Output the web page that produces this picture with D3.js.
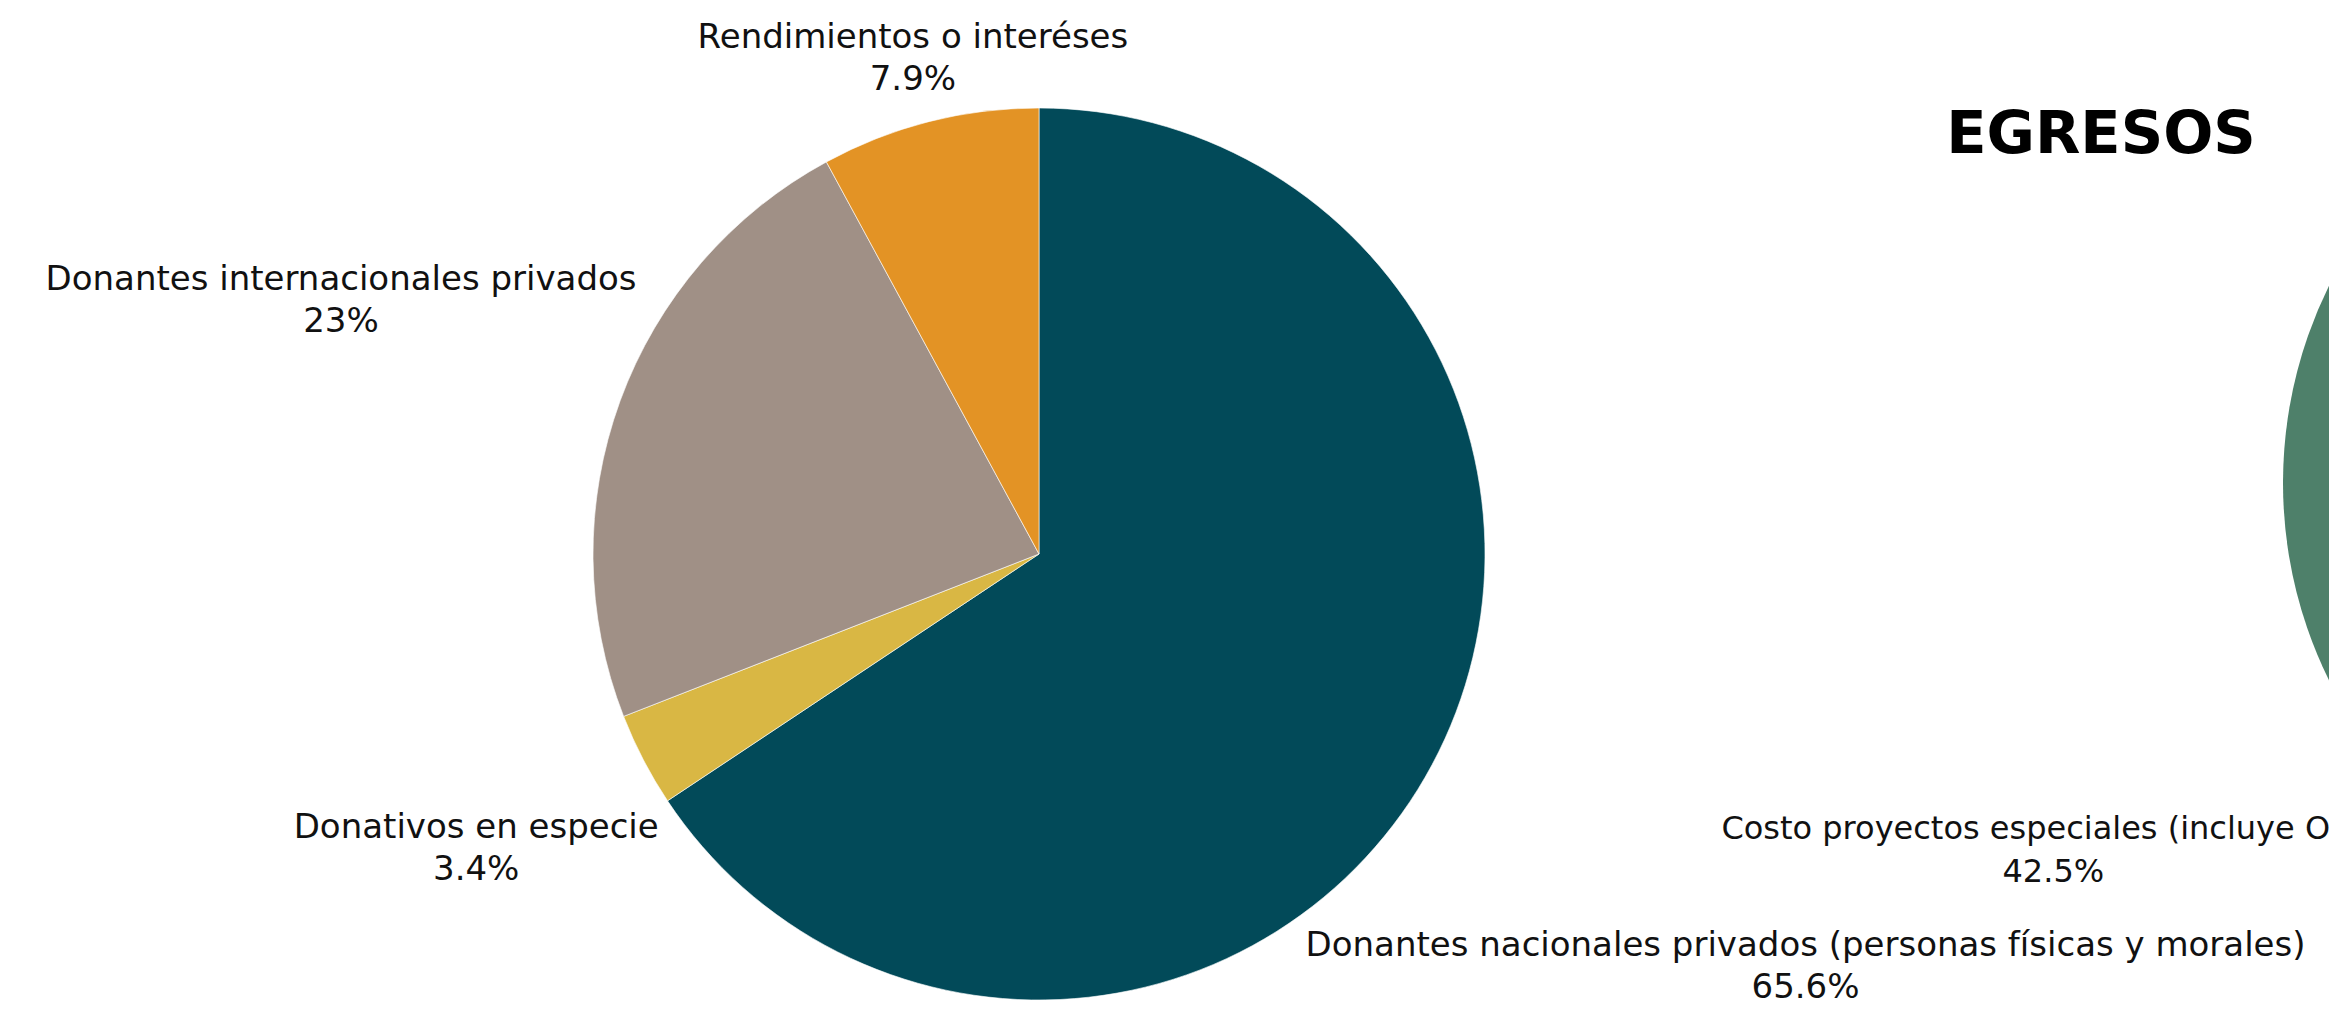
<!DOCTYPE html>
<html>
<head>
<meta charset="utf-8">
<script src="https://cdn.jsdelivr.net/npm/d3@7"></script>
<style>
  html, body { margin: 0; padding: 0; background: #ffffff; overflow: hidden; }
  svg { display: block; }
</style>
</head>
<body>
<svg id="chart" width="2329" height="1012"></svg>
<script>
// ---------------- DATA ----------------
const ingresosCategories = [
  "Donantes nacionales privados (personas físicas y morales)",
  "Donativos en especie",
  "Donantes internacionales privados",
  "Rendimientos o interéses"
];
const ingresosValues = [65.6, 3.4, 23, 7.9];
const ingresosLabels = ["65.6%", "3.4%", "23%", "7.9%"];
const ingresosColors = ["#024a59", "#d9b744", "#a09086", "#e39325"];

const egresosTitle = "EGRESOS";
const egresosCategories = [
  "Costo proyectos especiales (incluye OSC)",
  "Otros egresos"
];
const egresosValues = [42.5, 57.5];
const egresosLabels = ["42.5%", ""];
const egresosColors = ["#4e806a", "#c9c9c9"];

// ---------------- LAYOUT ----------------
const svg = d3.select("#chart");
const FONT = "'DejaVu Sans', 'Noto Sans', sans-serif";

function placeLabels(g, arcs, cats, labels, r, gap, fontSize, lineGap, onlyIdx) {
  arcs.forEach((a, i) => {
    if (onlyIdx && !onlyIdx.includes(i)) return;
    const mid = (a.startAngle + a.endAngle) / 2;
    const ux = Math.sin(mid), uy = -Math.cos(mid);
    const lg = g.append("g");
    lg.append("text").attr("text-anchor", "middle").attr("y", 0)
      .style("font-family", FONT).style("font-size", fontSize + "px").attr("fill", "#111")
      .text(cats[i]);
    lg.append("text").attr("text-anchor", "middle").attr("y", lineGap)
      .style("font-family", FONT).style("font-size", fontSize + "px").attr("fill", "#111")
      .text(labels[i]);
    const bb = lg.node().getBBox();
    const hw = bb.width / 2, hh = bb.height / 2;
    const ox = bb.x + hw, oy = bb.y + hh;
    const dist = d => {
      const x = ux * d, y = uy * d;
      const dx = Math.max(Math.abs(x) - hw, 0), dy = Math.max(Math.abs(y) - hh, 0);
      return Math.hypot(dx, dy);
    };
    let lo = 0, hi = 3000;
    for (let k = 0; k < 60; k++) {
      const m = (lo + hi) / 2;
      if (dist(m) < r + gap) lo = m; else hi = m;
    }
    const cx = ux * hi, cy = uy * hi;
    lg.attr("transform", `translate(${cx - ox},${cy - oy})`);
  });
}

// ---- Ingresos pie ----
const R1 = 446;
const g1 = svg.append("g").attr("transform", "translate(1039,554)");
const pie1 = d3.pie().sort(null).value(d => d)(ingresosValues);
const arc1 = d3.arc().innerRadius(0).outerRadius(R1);
g1.selectAll("path").data(pie1).join("path")
  .attr("d", arc1)
  .attr("fill", (d, i) => ingresosColors[i])
  .attr("stroke", "#ffffff").attr("stroke-width", 1).attr("stroke-opacity", 0.6);
placeLabels(g1, pie1, ingresosCategories, ingresosLabels, R1, 10, 34, 42);

// ---- Egresos pie (mostly outside the visible frame) ----
const R2 = 446;
const g2 = svg.append("g").attr("transform", "translate(2729,483)");
const startA = (165 / 180) * Math.PI;
const pie2 = d3.pie().sort(null).value(d => d)
  .startAngle(startA).endAngle(startA + 2 * Math.PI)(egresosValues);
const arc2 = d3.arc().innerRadius(0).outerRadius(R2);
g2.selectAll("path").data(pie2).join("path")
  .attr("d", arc2)
  .attr("fill", (d, i) => egresosColors[i]);
placeLabels(g2, pie2, egresosCategories, egresosLabels, R2, 28, 32, 43, [0]);

svg.append("text")
  .attr("x", 2101).attr("y", 153)
  .attr("text-anchor", "middle")
  .style("font-family", "'DejaVu Sans', sans-serif")
  .style("font-weight", "bold")
  .style("font-size", "59px")
  .attr("fill", "#000")
  .text(egresosTitle);
</script>
</body>
</html>
